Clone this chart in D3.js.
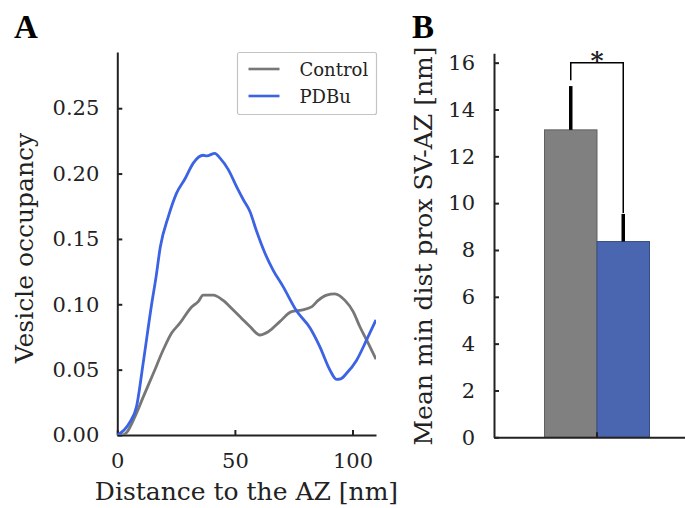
<!DOCTYPE html>
<html>
<head>
<meta charset="utf-8">
<script src="https://cdn.jsdelivr.net/npm/d3@7"></script>
<style>
  body { margin: 0; background: #fff; }
  text { font-family: "DejaVu Serif", serif; fill: #222; }
  .panel { font-family: "Liberation Serif", serif; font-weight: bold; fill: #000; }
</style>
</head>
<body>
<svg id="fig" width="685" height="508"></svg>
<script>
// panel A: vesicle occupancy vs distance to AZ
let controlDist = [0, 2, 4, 7.5, 11, 15.3, 19.5, 23.1, 26.6, 31.6, 34.4, 36.5, 40.8, 45, 49.3, 53,
    56.4, 60.6, 64.2, 69.1, 74.1, 78.4, 82.6, 85.4, 89, 92.5, 96.8, 100.3, 103.1, 106, 110];
let controlOcc = [0, 0, 0.002, 0.014, 0.029, 0.047, 0.065, 0.078, 0.0855, 0.098, 0.102, 0.107, 0.107,
    0.103, 0.0956, 0.089, 0.083, 0.0765, 0.079, 0.0867, 0.0944, 0.0956, 0.098, 0.103, 0.107, 0.108,
    0.103, 0.0944, 0.083, 0.0727, 0.058];

let pdbuDist = [0, 3, 5.4, 8.2, 11, 14.6, 16.4, 18.3, 21.7, 25.2, 28.8, 32.3, 36.5, 38, 41.5, 43.6,
    47.2, 50.7, 53.6, 56.4, 59.2, 62.8, 66.3, 70.5, 76.2, 81.9, 86.1, 90.4, 93.2, 95, 97.5, 101.7,
    106, 110];
let pdbuOcc = [0, 0.004, 0.01, 0.022, 0.055, 0.1, 0.12, 0.144, 0.167, 0.185, 0.196, 0.208, 0.214,
    0.2135, 0.2155, 0.212, 0.203, 0.19, 0.18, 0.171, 0.156, 0.139, 0.126, 0.1135, 0.095, 0.082,
    0.0676, 0.0497, 0.0426, 0.043, 0.0472, 0.057, 0.0727, 0.088];

let occTicks = [0, 0.05, 0.1, 0.15, 0.2, 0.25];
let distTicks = [0, 50, 100];

// panel B: mean min distance
let groups = ['Control', 'PDBu'];
let meanDist = [13.13, 8.36];
let errDist = [1.87, 1.18];
let distBarTicks = [0, 2, 4, 6, 8, 10, 12, 14, 16];
let sigLevel = 16;
let sigLabel = '*';

let colors = { Control: '#777777', PDBu: '#3b63e3' };
let barColors = { Control: '#808080', PDBu: '#4a66b0' };

let svg = d3.select('#fig');

// ---------- A ----------
let xA = d3.scaleLinear().domain([0, 110]).range([117.3, 376]);
let yA = d3.scaleLinear().domain([0, 0.293]).range([435, 52]);

let gA = svg.append('g');

gA.append('g')
    .attr('transform', 'translate(0,' + yA(0) + ')')
    .call(d3.axisBottom(xA).tickValues(distTicks).tickSize(-5).tickPadding(18).tickSizeOuter(0))
    .call(g => g.select('.domain').attr('stroke', '#222').attr('stroke-width', 2))
    .call(g => g.selectAll('.tick line').attr('stroke', '#222').attr('stroke-width', 2))
    .call(g => g.selectAll('text').style('font-size', '21px').attr('fill', '#222'));

gA.append('g')
    .attr('transform', 'translate(' + xA(0) + ',0)')
    .call(d3.axisLeft(yA).tickValues(occTicks).tickFormat(d3.format('.2f')).tickSize(-5).tickPadding(18).tickSizeOuter(0))
    .call(g => g.select('.domain').attr('stroke', '#222').attr('stroke-width', 2))
    .call(g => g.selectAll('.tick line').attr('stroke', '#222').attr('stroke-width', 2))
    .call(g => g.selectAll('text').style('font-size', '21px').attr('fill', '#222'));

let lineA = d3.line()
    .x(d => xA(d[0]))
    .y(d => yA(d[1]))
    .curve(d3.curveMonotoneX);

let seriesA = [
    { name: 'Control', pts: d3.zip(controlDist, controlOcc) },
    { name: 'PDBu', pts: d3.zip(pdbuDist, pdbuOcc) }
];

gA.append('clipPath').attr('id', 'clipA')
    .append('rect').attr('x', xA(0)).attr('y', yA(0.293)).attr('width', xA(110) - xA(0)).attr('height', yA(0) - yA(0.293));

gA.selectAll('.series')
    .data(seriesA)
    .enter()
    .append('path')
    .attr('class', 'series')
    .attr('clip-path', 'url(#clipA)')
    .attr('d', d => lineA(d.pts))
    .attr('fill', 'none')
    .attr('stroke', d => colors[d.name])
    .attr('stroke-width', 2.8)
    .attr('stroke-linejoin', 'round');

// legend
let legend = gA.append('g').attr('transform', 'translate(237.5,52.5)');
legend.append('rect')
    .attr('width', 139).attr('height', 62).attr('rx', 2)
    .attr('fill', '#fff').attr('stroke', '#c4c4c4').attr('stroke-width', 1.2);
let legItem = legend.selectAll('.leg')
    .data(groups)
    .enter()
    .append('g')
    .attr('class', 'leg')
    .attr('transform', (d, i) => 'translate(0,' + (16.5 + i * 27) + ')');
legItem.append('line')
    .attr('x1', 11).attr('x2', 42)
    .attr('stroke', d => colors[d]).attr('stroke-width', 2.6);
legItem.append('text')
    .attr('x', 62).attr('y', 6.5)
    .style('font-size', '18px')
    .text(d => d);

gA.append('text')
    .attr('text-anchor', 'middle')
    .attr('x', 246.5)
    .attr('y', 500)
    .style('font-size', '25px')
    .text('Distance to the AZ [nm]');

gA.append('text')
    .attr('text-anchor', 'middle')
    .attr('transform', 'translate(33,248) rotate(-90)')
    .style('font-size', '25px')
    .text('Vesicle occupancy');

svg.append('text').attr('class', 'panel').attr('x', 14).attr('y', 38).style('font-size', '33px').text('A');

// ---------- B ----------
let xB = d3.scaleBand().domain(groups).range([544.5, 649.5]).padding(0);
let yB = d3.scaleLinear().domain([0, 16.4]).range([437.3, 53.3]);

let gB = svg.append('g');

gB.selectAll('.bar')
    .data(groups)
    .enter()
    .append('rect')
    .attr('class', 'bar')
    .attr('x', d => xB(d))
    .attr('y', (d, i) => yB(meanDist[i]))
    .attr('width', xB.bandwidth())
    .attr('height', (d, i) => yB(0) - yB(meanDist[i]))
    .attr('fill', d => barColors[d])
    .attr('stroke', d => d3.color(barColors[d]).darker(0.8))
    .attr('stroke-width', 1);

gB.selectAll('.err')
    .data(groups)
    .enter()
    .append('line')
    .attr('class', 'err')
    .attr('x1', d => xB(d) + xB.bandwidth() / 2)
    .attr('x2', d => xB(d) + xB.bandwidth() / 2)
    .attr('y1', (d, i) => yB(meanDist[i]))
    .attr('y2', (d, i) => yB(meanDist[i] + errDist[i]))
    .attr('stroke', '#000')
    .attr('stroke-width', 3.5);

// significance bracket
let bx0 = xB('Control') + xB.bandwidth() / 2;
let bx1 = xB('PDBu') + xB.bandwidth() / 2;
gB.append('path')
    .attr('d', 'M' + bx0 + ',' + yB(meanDist[0] + errDist[0] + 0.25) +
        'V' + yB(sigLevel) + 'H' + bx1 + 'V' + yB(meanDist[1] + errDist[1] + 0.04))
    .attr('fill', 'none')
    .attr('stroke', '#000')
    .attr('stroke-width', 1.5);
gB.append('text')
    .attr('x', (bx0 + bx1) / 2)
    .attr('y', yB(sigLevel) + 6)
    .attr('text-anchor', 'middle')
    .style('font-size', '25px')
    .style('font-weight', 'bold')
    .attr('fill', '#000')
    .text(sigLabel);

gB.append('g')
    .attr('transform', 'translate(0,' + yB(0) + ')')
    .call(d3.axisBottom(d3.scaleLinear().domain([0, 1]).range([494, 690])).tickValues([]).tickSizeOuter(0))
    .call(g => g.select('.domain').attr('stroke', '#222').attr('stroke-width', 2));
gB.append('line')
    .attr('x1', xB('PDBu')).attr('x2', xB('PDBu'))
    .attr('y1', yB(0)).attr('y2', yB(0) - 5)
    .attr('stroke', '#222').attr('stroke-width', 2);

gB.append('g')
    .attr('transform', 'translate(494,0)')
    .call(d3.axisLeft(yB).tickValues(distBarTicks).tickSize(-5).tickPadding(19).tickSizeOuter(0))
    .call(g => g.select('.domain').attr('stroke', '#222').attr('stroke-width', 2))
    .call(g => g.selectAll('.tick line').attr('stroke', '#222').attr('stroke-width', 2))
    .call(g => g.selectAll('text').style('font-size', '21px').attr('fill', '#222'));

gB.append('text')
    .attr('text-anchor', 'middle')
    .attr('transform', 'translate(432,246) rotate(-90)')
    .style('font-size', '25px')
    .text('Mean min dist prox SV-AZ [nm]');

svg.append('text').attr('class', 'panel').attr('x', 412).attr('y', 38).style('font-size', '33px').text('B');
</script>
</body>
</html>
